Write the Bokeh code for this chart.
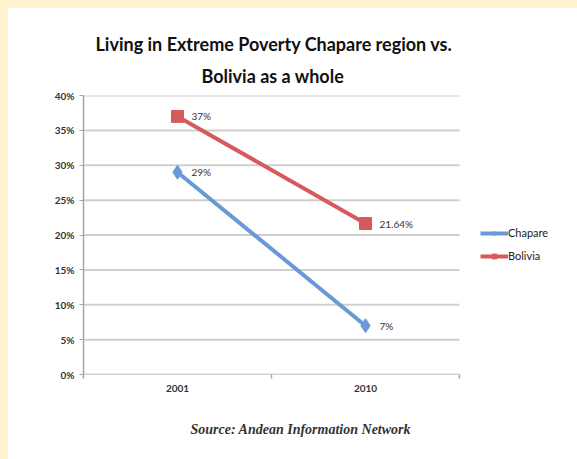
from bokeh.plotting import figure
from bokeh.models import (ColumnDataSource, Range1d, FixedTicker, PrintfTickFormatter,
                          Legend, LegendItem, Title)
from bokeh.embed import file_html
from bokeh.resources import INLINE
from bokeh.core.properties import value

years = ["2001", "2010"]
chapare = [29, 7]
bolivia = [37, 21.64]
chapare_labels = ["29%", "7%"]
bolivia_labels = ["37%", "21.64%"]
y_ticks = [0, 5, 10, 15, 20, 25, 30, 35, 40]

xs = [i + 0.5 for i in range(len(years))]

BLUE = "#6A9AD6"
RED = "#D65A5C"
FONT = "Lato"

# plot area is 376 px for the categories; frame is widened to host the legend
CAT_PX = 376
FRAME_PX = 494
x_end = len(years) * FRAME_PX / CAT_PX

p = figure(width=569, height=451, output_backend="svg", toolbar_location=None,
           x_range=Range1d(0, x_end), y_range=Range1d(0, 40),
           min_border_left=75, min_border_right=8, min_border_top=87, min_border_bottom=93,
           background_fill_color="white", border_fill_color="white",
           styles={"border-left": "8px solid #FFF2CF", "border-top": "8px solid #FFF2CF",
                   "box-sizing": "content-box"})
p.outline_line_color = None

p.title.text = "Living in Extreme Poverty Chapare region vs."
p.title.align = "left"
p.title.offset = 12
p.title.standoff = 0
p.title.text_font = FONT
p.title.text_font_size = "18px"
p.title.text_font_style = "bold"
p.title.text_color = "#111111"
p.add_layout(Title(text="Bolivia as a whole", align="left", offset=118, standoff=17,
                   text_font=FONT, text_font_size="18px", text_font_style="bold",
                   text_color="#111111"), "above")
p.add_layout(Title(text="Source: Andean Information Network", align="left",
                   offset=107, standoff=50, text_font="Liberation Serif",
                   text_font_size="14px", text_font_style="bold italic",
                   text_color="#333333"), "below")

# axes
p.xaxis.ticker = FixedTicker(ticks=xs, minor_ticks=list(range(len(years) + 1)))
p.xaxis.major_label_overrides = {x: y for x, y in zip(xs, years)}
p.xaxis.major_tick_line_color = None
p.xaxis.minor_tick_line_color = "#A6A6A6"
p.xaxis.minor_tick_line_width = 1.5
p.xaxis.minor_tick_out = 4
p.xaxis.minor_tick_in = 0
p.xaxis.axis_line_color = None
p.xaxis.major_label_text_font = FONT
p.xaxis.major_label_text_font_size = "10px"
p.xaxis.major_label_text_font_style = "bold"
p.xaxis.major_label_text_color = "#333333"
p.xaxis.major_label_standoff = 4

p.yaxis.ticker = FixedTicker(ticks=y_ticks, minor_ticks=[])
p.yaxis.formatter = PrintfTickFormatter(format="%d%%")
p.yaxis.axis_line_color = "#A6A6A6"
p.yaxis.axis_line_width = 1.5
p.yaxis.major_tick_line_color = "#A6A6A6"
p.yaxis.major_tick_out = 4
p.yaxis.major_tick_in = 0
p.yaxis.minor_tick_line_color = None
p.yaxis.major_label_text_font = FONT
p.yaxis.major_label_text_font_size = "10px"
p.yaxis.major_label_text_font_style = "bold"
p.yaxis.major_label_text_color = "#333333"
p.yaxis.major_label_standoff = 5

# gridlines limited to the category span (frame is wider for the legend)
p.xgrid.grid_line_color = None
p.ygrid.grid_line_color = None
grid_src = ColumnDataSource(dict(x0=[0] * len(y_ticks), x1=[len(years)] * len(y_ticks),
                                 y=y_ticks,
                                 c=["#A6A6A6" if t == 0 else "#CFCFCF" for t in y_ticks],
                                 w=[1.5 if t == 0 else 2 for t in y_ticks]))
p.segment(x0="x0", x1="x1", y0="y", y1="y", source=grid_src, line_color="c",
          line_width="w")

src_c = ColumnDataSource(dict(x=xs, y=chapare, t=chapare_labels))
src_b = ColumnDataSource(dict(x=xs, y=bolivia, t=bolivia_labels))

lc = p.line("x", "y", source=src_c, line_color=BLUE, line_width=4)
mc = p.scatter("x", "y", source=src_c, marker="diamond", size=14, fill_color=BLUE,
               line_color=BLUE)
lb = p.line("x", "y", source=src_b, line_color=RED, line_width=4)
mb = p.scatter("x", "y", source=src_b, marker="square", size=12, fill_color=RED,
               line_color=RED)

for s in (src_c, src_b):
    p.text("x", "y", text="t", source=s, x_offset=14, text_baseline="middle",
           text_align="left", text_font=value(FONT), text_font_size="10px",
           text_color="#333333")

legend = Legend(items=[LegendItem(label="Chapare", renderers=[lc, mc]),
                       LegendItem(label="Bolivia", renderers=[lb, mb])],
                location=(397, 112), orientation="vertical",
                glyph_width=28, glyph_height=12, spacing=10, padding=0, margin=0,
                label_standoff=0, label_text_font=FONT, label_text_font_size="11px",
                label_text_color="#222222", border_line_color=None,
                background_fill_alpha=0)
p.add_layout(legend, "center")

open("out.html", "w").write(file_html(p, INLINE))
